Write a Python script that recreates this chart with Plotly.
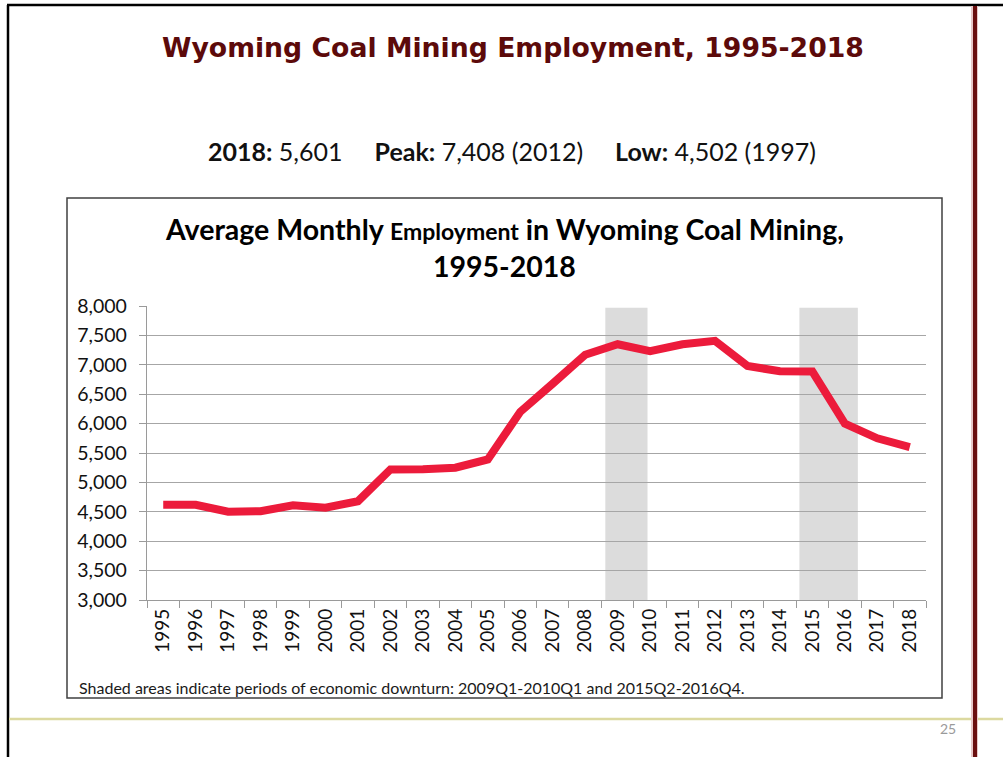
import plotly.graph_objects as go

years = [str(y) for y in range(1995, 2019)]
employment = [4620, 4620, 4502, 4510, 4610, 4570, 4680, 5220, 5225, 5250, 5390,
              6200, 6680, 7170, 7350, 7230, 7350, 7408, 6980, 6890, 6885, 6000, 5750, 5601]
# downturn periods, expressed as category-index positions (1995 = 0)
downturns = [(13.62, 14.92), (19.6, 21.4)]
y_ticks = [3000, 3500, 4000, 4500, 5000, 5500, 6000, 6500, 7000, 7500, 8000]

W, H = 1003, 757
L, R, T, B = 147, 926, 306, 600


def px(x):
    return (x - L) / (R - L)


def py(y):
    return (B - y) / (B - T)


fig = go.Figure()
fig.add_trace(go.Scatter(
    x=years, y=employment, mode="lines",
    line=dict(color="#ec1b3b", width=8, shape="linear"),
    hoverinfo="x+y", showlegend=False,
))

shapes = []
for x0, x1 in downturns:
    shapes.append(dict(type="rect", xref="x", yref="y", x0=x0, x1=x1, y0=3000, y1=7970,
                       fillcolor="#dcdcdc", line=dict(width=0), layer="below"))
# chart box
shapes.append(dict(type="rect", xref="paper", yref="paper", x0=px(67), x1=px(942),
                   y0=py(698), y1=py(198), line=dict(color="#404040", width=1.5),
                   fillcolor="rgba(0,0,0,0)", layer="below"))
# page frame: top and left black lines
shapes.append(dict(type="line", xref="paper", yref="paper", x0=px(7), x1=px(1003),
                   y0=py(5), y1=py(5), line=dict(color="#000000", width=2.5)))
shapes.append(dict(type="line", xref="paper", yref="paper", x0=px(8), x1=px(8),
                   y0=py(5), y1=py(757), line=dict(color="#000000", width=2.5)))
# khaki rule
shapes.append(dict(type="line", xref="paper", yref="paper", x0=px(9), x1=px(1003),
                   y0=py(719), y1=py(719), line=dict(color="#dcd9a0", width=2.5)))
# maroon double bar at right
shapes.append(dict(type="rect", xref="paper", yref="paper", x0=px(971), x1=px(978),
                   y0=py(757), y1=py(6), fillcolor="#e8c8c8", line=dict(width=0)))
shapes.append(dict(type="rect", xref="paper", yref="paper", x0=px(973), x1=px(977),
                   y0=py(757), y1=py(6), fillcolor="#6a0f0f", line=dict(width=0)))

annotations = [
    dict(text="<b>Wyoming Coal Mining Employment, 1995-2018</b>", xref="paper", yref="paper",
         x=px(513), y=py(47), showarrow=False, xanchor="center", yanchor="middle",
         font=dict(family="DejaVu Sans", size=26.7, color="#5c0a0a")),
    dict(text="<b>2018:</b> 5,601     <b>Peak:</b> 7,408 (2012)     <b>Low:</b> 4,502 (1997)",
         xref="paper", yref="paper", x=px(512), y=py(151), showarrow=False,
         xanchor="center", yanchor="middle",
         font=dict(family="Lato", size=25, color="#111111")),
    dict(text="<b>Average Monthly <span style='font-size:23px'>Employment</span> in Wyoming Coal Mining,</b>",
         xref="paper", yref="paper", x=px(504), y=py(229), showarrow=False,
         xanchor="center", yanchor="middle",
         font=dict(family="Lato", size=28.5, color="#000000")),
    dict(text="<b>1995-2018</b>", xref="paper", yref="paper", x=px(504), y=py(266),
         showarrow=False, xanchor="center", yanchor="middle",
         font=dict(family="Lato", size=28.5, color="#000000")),
    dict(text="Shaded areas indicate periods of economic downturn: 2009Q1-2010Q1 and 2015Q2-2016Q4.",
         xref="paper", yref="paper", x=px(77), y=py(687), showarrow=False,
         xanchor="left", yanchor="middle",
         font=dict(family="Lato", size=16, color="#1a1a1a")),
    dict(text="25", xref="paper", yref="paper", x=px(948), y=py(728), showarrow=False,
         xanchor="center", yanchor="middle",
         font=dict(family="Lato", size=14, color="#9a9a9a")),
]

fig.update_layout(
    width=W, height=H,
    margin=dict(l=L, r=W - R, t=T, b=H - B, pad=0),
    paper_bgcolor="white", plot_bgcolor="rgba(0,0,0,0)",
    shapes=shapes, annotations=annotations,
    showlegend=False,
    xaxis=dict(
        type="category", range=[-0.5, 23.5], tickson="boundaries",
        ticks="outside", ticklen=7, tickcolor="#9a9a9a", tickwidth=1.3,
        showline=True, linecolor="#9a9a9a", linewidth=1.3,
        showgrid=False, tickangle=-90,
        tickfont=dict(family="Lato", size=19, color="#111111"),
        fixedrange=True,
    ),
    yaxis=dict(
        range=[3000, 8000], tickvals=y_ticks, tickformat=",",
        ticks="outside", ticklen=7, tickcolor="#9a9a9a", tickwidth=1.3,
        showline=True, linecolor="#9a9a9a", linewidth=1.3,
        showgrid=True, gridcolor="#a6a6a6", gridwidth=1.2, zeroline=False,
        tickfont=dict(family="Lato", size=19.5, color="#111111"),
        ticklabelstandoff=8,
        fixedrange=True,
    ),
)

fig.write_html("out.html", config={"displayModeBar": False},
               post_script="document.body.style.margin='0';document.body.style.overflow='hidden';")
